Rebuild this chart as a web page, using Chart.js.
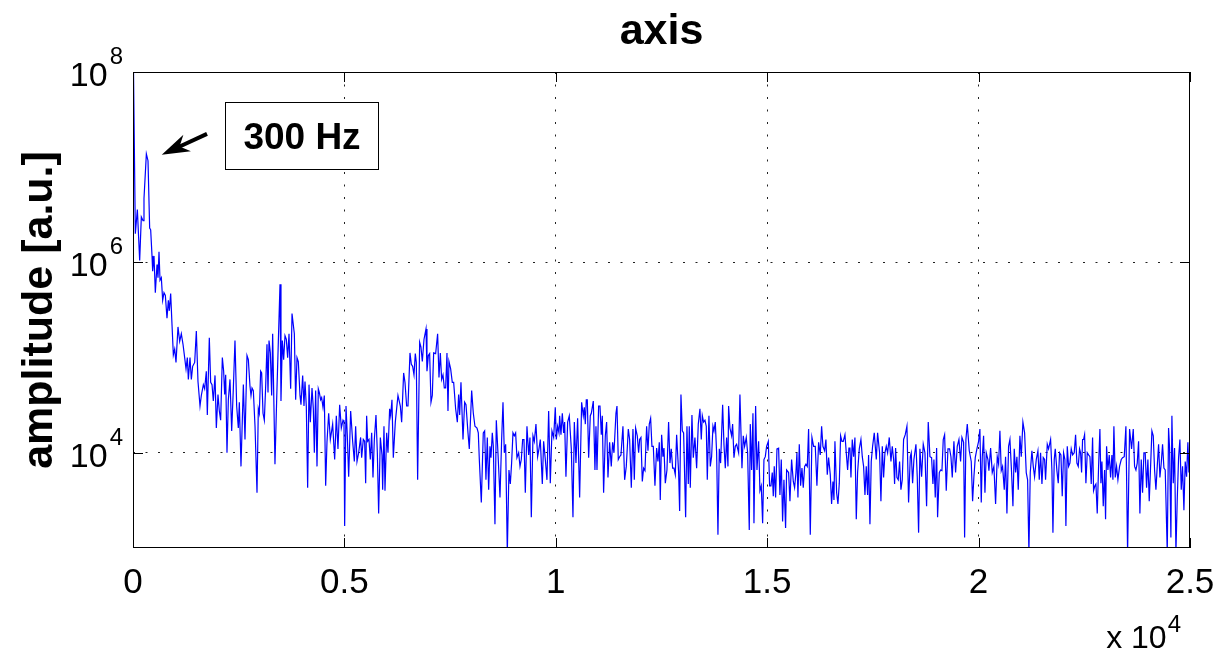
<!DOCTYPE html>
<html><head><meta charset="utf-8">
<style>html,body{margin:0;padding:0;background:#fff;} #wrap{width:1224px;height:663px;}</style>
<script src="https://cdn.jsdelivr.net/npm/chart.js@4.4.1/dist/chart.umd.min.js"></script>
</head><body><div id="wrap"><canvas id="c" width="1224" height="663"></canvas></div>
<script>
const chartTitle = 'axis';
const yAxisLabel = 'amplitude [a.u.]';
const xTickValues = [0, 5000, 10000, 15000, 20000, 25000];
const xTickLabels = ['0', '0.5', '1', '1.5', '2', '2.5'];
const xScaleNote = ['x 10', '4'];
const yTickValues = [1e4, 1e6, 1e8];
const yTickExponents = ['4', '6', '8'];
const annotationText = '300 Hz';

const freqHz = [
0,55,103,158,197,237,260,316,355,394,
418,450,465,497,528,568,591,615,639,670,
702,733,765,804,836,859,891,923,954,986,
1017,1064,1104,1143,1183,1222,1254,1285,1309,1348,
1380,1411,1459,1498,1537,1585,1616,1664,1695,1734,
1758,1805,1837,1869,1900,1940,1971,2010,2042,2073,
2113,2144,2168,2192,2223,2255,2294,2334,2373,2412,
2452,2491,2515,2554,2610,2649,2696,2728,2767,2791,
2815,2846,2886,2933,2964,2988,3019,3043,3075,3106,
3138,3169,3193,3217,3248,3280,3303,3358,3398,3437,
3477,3500,3532,3563,3595,3627,3658,3690,3729,3761,
3792,3816,3847,3879,3910,3950,3973,4013,4044,4068,
4099,4131,4163,4194,4234,4265,4289,4320,4352,4383,
4407,4438,4462,4494,4525,4557,4588,4628,4667,4691,
4722,4770,4809,4848,4888,4927,4967,4990,5006,5038,
5069,5101,5148,5195,5235,5266,5298,5337,5384,5408,
5447,5479,5503,5526,5550,5581,5613,5645,5676,5708,
5747,5779,5810,5850,5889,5905,5936,5960,6000,6031,
6070,6094,6125,6157,6204,6267,6323,6354,6401,6433,
6472,6504,6551,6583,6614,6646,6677,6701,6732,6780,
6811,6843,6882,6930,6953,6985,7016,7048,7079,7111,
7158,7205,7237,7269,7300,7332,7363,7395,7426,7450,
7473,7513,7552,7584,7631,7671,7702,7726,7757,7805,
7844,7876,7923,7954,8010,8049,8088,8136,8167,8191,
8238,8285,8317,8348,8380,8412,8443,8467,8498,8522,
8561,8593,8632,8680,8719,8751,8782,8814,8853,8892,
8924,8955,8987,9018,9050,9081,9121,9153,9184,9216,
9247,9279,9318,9358,9389,9421,9460,9492,9531,9570,
9602,9633,9681,9712,9752,9791,9831,9870,9909,9949,
9988,10012,10043,10075,10091,10122,10154,10185,10209,10240,
10280,10319,10367,10406,10438,10477,10516,10564,10611,10650,
10674,10698,10721,10745,10777,10816,10840,10887,10926,10950,
10974,11013,11045,11076,11100,11131,11171,11202,11234,11273,
11312,11344,11376,11423,11447,11478,11510,11541,11588,11628,
11667,11715,11746,11786,11825,11857,11888,11927,11959,11983,
12014,12046,12077,12109,12148,12180,12211,12243,12274,12306,
12345,12385,12416,12448,12471,12503,12534,12558,12590,12629,
12668,12700,12731,12763,12795,12826,12858,12905,12929,12960,
12992,13023,13071,13102,13134,13157,13181,13220,13252,13291,
13331,13370,13409,13441,13465,13496,13528,13559,13583,13622,
13654,13685,13717,13741,13772,13804,13835,13867,13898,13946,
13977,14009,14040,14072,14087,14119,14158,14182,14214,14245,
14277,14324,14355,14403,14434,14466,14505,14537,14576,14600,
14631,14663,14687,14726,14758,14797,14828,14860,14892,14923,
14955,14986,15026,15057,15089,15120,15144,15167,15199,15231,
15270,15301,15333,15364,15396,15435,15459,15506,15538,15577,
15617,15648,15680,15703,15727,15759,15790,15822,15853,15885,
15916,15948,15979,16019,16058,16098,16137,16176,16216,16255,
16287,16318,16358,16389,16421,16452,16492,16523,16555,16579,
16602,16642,16673,16705,16736,16768,16799,16839,16870,16902,
16933,16957,16981,17012,17044,17075,17107,17138,17178,17217,
17249,17280,17312,17343,17375,17398,17430,17461,17493,17532,
17580,17611,17658,17690,17722,17753,17785,17816,17848,17887,
17927,17958,17990,18013,18037,18068,18100,18131,18163,18194,
18226,18265,18305,18344,18384,18407,18439,18470,18518,18549,
18581,18612,18652,18691,18731,18770,18809,18849,18888,18920,
18943,18975,19007,19030,19070,19101,19133,19164,19196,19235,
19275,19314,19346,19377,19416,19456,19495,19535,19574,19606,
19645,19669,19700,19732,19779,19826,19858,19889,19921,19960,
20000,20031,20063,20087,20118,20150,20181,20221,20244,20284,
20323,20362,20402,20441,20473,20504,20536,20567,20607,20638,
20670,20709,20741,20780,20812,20843,20875,20906,20938,20977,
21009,21048,21088,21127,21159,21190,21222,21261,21293,21324,
21364,21403,21435,21466,21498,21529,21561,21584,21624,21655,
21703,21734,21758,21789,21813,21852,21884,21915,21947,21978,
22010,22041,22065,22097,22128,22160,22191,22223,22262,22294,
22325,22357,22388,22412,22436,22459,22483,22507,22538,22570,
22601,22633,22664,22696,22719,22751,22775,22806,22838,22869,
22893,22917,22948,22980,23003,23027,23058,23090,23122,23153,
23177,23200,23232,23263,23295,23334,23374,23405,23445,23484,
23524,23571,23618,23658,23689,23721,23752,23784,23815,23847,
23878,23910,23941,23973,24004,24036,24068,24099,24131,24162,
24194,24225,24257,24288,24320,24351,24383,24414,24462,24493,
24517,24548,24572,24604,24635,24667,24698,24730,24761,24793,
24824,24856,24887,24919,24950,24974,25000
];

const amplitude = [
3e8,2.0e6,3.6e6,1.05e6,3.0e6,2.75e6,4.7e6,1.38e7,1.17e7,2.3e6,
2.2e6,1.17e6,8.1e5,1.17e6,4.8e5,9.5e5,6.9e5,1.29e6,6.5e5,6.9e5,
4.0e5,4.8e5,4.5e5,2.6e5,4.0e5,3.1e5,4.7e5,2.2e5,1.07e5,1.23e5,
8.9e4,2.1e5,1.48e5,1.78e5,1.38e5,1.0e5,7.6e4,1.0e5,5.9e4,1.0e5,
5.9e4,8.1e4,8.9e4,1.9e5,5.6e4,3.1e4,4.0e4,5.2e4,4.7e4,7.2e4,
2.5e4,1.62e5,5.5e4,5.2e4,3.5e4,6.5e4,1.82e4,4.1e4,2.75e4,2.2e4,
1.0e5,7.2e4,4.1e4,6.6e4,1.0e4,3.6e4,5.9e4,1.7e4,4.7e4,1.51e5,
3.1e4,1.82e4,3.4e4,7.2e3,5.2e4,1.38e4,1.05e5,9.5e4,5.0e4,4.0e4,
4.8e4,4.5e4,1.9e4,3.8e3,2.9e4,2.6e4,7.2e4,6.9e4,2.6e4,2.2e4,
5.0e4,1.38e5,4.3e4,1.51e5,1.12e5,4.0e4,1.78e5,7.6e3,3.6e4,1.45e5,
5.9e5,3.5e4,1.51e5,9.5e4,1.7e5,1.55e5,1.0e5,1.78e5,4.7e4,2.9e5,
2.2e5,1.78e5,3.6e4,1.0e5,9.1e4,4.0e4,3.2e4,6.5e4,3.1e4,5.6e4,
3.1e4,4.3e3,5.2e4,2.1e4,4.8e4,2.9e4,1.0e4,4.5e4,7.2e3,4.7e4,
4.3e4,3.6e4,3.8e4,3.0e4,4.0e4,4.5e3,1.29e4,2.6e4,1.38e4,1.62e4,
2.0e4,8.5e3,2.45e4,1.1e4,3.2e4,1.82e4,2.2e4,2.1e4,1.7e3,3.1e4,
1.51e4,5.6e3,2.75e4,1.32e4,8.1e3,1.9e4,8.1e3,1.0e4,1.45e4,8.9e3,
1.38e4,1.32e4,4.8e3,2.45e4,1.32e4,1.38e4,8.5e3,1.62e4,5.5e3,1.38e4,
2.5e4,1.0e4,2.3e3,1.45e4,9.5e3,4.1e3,1.9e4,4.0e3,1.62e4,1.0e4,
2.9e4,2.45e4,3.6e4,8.9e3,2.1e4,4.0e4,3.1e4,2.1e4,6.9e4,5.5e4,
3.1e4,3.1e4,1.12e5,8.5e4,8.1e4,6.6e4,1.1e5,8.9e4,5.2e3,1.45e5,
1.29e5,9.1e4,1.55e5,2.0e5,7.2e4,1.05e5,1.1e5,3.4e4,4.0e4,1.12e5,
1.1e5,1.78e5,6.2e4,1.12e5,5.9e4,6.6e4,4.8e4,4.8e4,1.12e5,2.75e4,
9.1e4,7.6e4,5.5e4,5.5e4,2.9e4,2.1e4,4.1e4,2.5e4,5.5e4,1.38e4,
3.4e4,3.2e4,1.62e4,1.1e4,4.5e4,2.6e4,1.9e4,1.82e4,1.62e4,8.5e3,
3.0e3,1.62e4,1.7e4,5.2e3,1.45e4,4.1e3,1.17e4,8.9e3,1.62e4,1.17e4,
1.78e3,2.2e4,1.0e4,3.4e3,1.38e4,3.4e4,1.0e4,1.23e4,9e2,6.6e3,
4.7e3,7.8e3,1.62e4,1.51e4,1.62e4,8.9e3,1.0e4,7.2e3,8.5e3,1.38e4,
1.38e4,3.8e3,1.9e4,9.5e3,1.45e4,2.1e3,1.51e4,1.32e4,2.0e4,9.1e3,
1.1e4,1.38e4,4.7e3,1.32e4,8.5e3,5.2e3,2.75e4,4.8e3,1.7e4,1.45e4,
3.0e4,1.38e4,1.9e4,1.62e4,2.45e4,1.55e4,2.6e4,1.62e4,2.1e4,5.6e3,
2.1e4,2.45e4,1.1e4,2.1e3,2.1e4,7.8e3,2.3e4,3.4e3,3.4e4,2.45e4,
3.0e4,2.0e4,3.6e4,3.6e4,8.9e3,2.45e4,2.6e4,3.5e4,6.6e3,1.9e4,
6.6e3,3.1e4,3.1e4,1.55e4,2.45e4,3.8e3,1.51e4,2.1e4,5.5e3,1.29e4,
7.2e3,1.29e4,1.0e4,2.6e4,3.1e4,8.5e3,9.1e3,9.5e3,1.9e4,5.2e3,
7.2e3,1.78e4,1.38e4,4.3e3,1.78e4,5.2e3,1.82e4,1.51e4,1.0e4,1.38e4,
1.45e4,5.0e3,6.9e3,6.5e3,1.9e4,1.05e4,2.0e4,2.3e4,1.17e4,1.17e4,
4.5e3,1.12e4,8.1e3,1.29e4,3.2e3,1.55e4,9.1e3,1.12e4,4.8e3,6.6e3,
2.1e4,7.8e3,1.1e4,6.9e3,6.9e3,5.9e3,1.55e4,6.2e3,2.45e3,4.1e4,
1.7e4,1.62e4,2.1e3,1.9e4,4.7e3,1.9e4,4.3e3,2.5e4,8.9e3,1.45e4,
6.9e3,2.0e4,2.9e4,1.38e4,2.45e4,2.1e4,2.2e4,1.9e4,5.2e3,2.45e4,
7.2e3,9.1e3,1.9e4,1.7e4,2.1e4,1.0e4,1.38e3,1.1e4,7.8e3,3.2e4,
1.23e4,6.9e3,1.45e4,7.2e3,3.1e4,1.82e4,1.51e4,2.0e4,8.9e3,1.17e4,
1.23e4,1.0e4,4.1e4,6.9e3,1.51e4,1.17e4,1.45e4,1.0e4,1.55e3,2.0e4,
6.6e3,2.6e4,1.82e3,3.1e4,6.6e3,1.32e4,4.0e3,4.5e3,1.82e3,8.5e3,
9.1e3,1.17e4,1.32e4,4.5e3,4.5e3,6.2e3,3.5e3,7.2e3,3.4e3,1.1e4,
1.12e4,3.6e3,8.5e3,1.9e3,5.2e3,1.62e3,6.6e3,6.2e3,3.1e3,8.5e3,
5.0e3,4.3e3,6.2e3,1.0e4,3.4e3,1.23e4,4.5e3,6.9e3,4.3e3,7.2e3,
7.6e3,7.2e3,1.78e4,1.38e3,1.45e4,1.17e4,1.17e4,4.5e3,1.29e4,9.5e3,
1.9e4,1.17e4,1.05e4,1.38e4,5.9e3,8.9e3,5.9e3,2.9e3,5.0e3,3.2e3,
1.32e4,3.8e3,2.9e3,4.8e3,1.51e4,1.32e4,1.32e4,1.55e4,1.0e4,6.6e3,
1.12e4,1.12e4,5.5e3,1.38e4,9.1e3,1.45e4,2.0e3,6.2e3,1.1e4,1.38e4,
9.1e3,7.2e3,3.6e3,7.2e3,3.6e3,9.5e3,1.78e3,8.1e3,1.17e4,1.62e4,
8.5e3,1.62e4,1.0e4,3.1e3,1.17e4,5.5e3,1.0e4,1.17e4,1.0e4,1.45e4,
8.1e3,1.17e4,8.5e3,4.7e3,1.12e4,5.5e3,5.2e3,8.1e3,4.1e3,5.2e3,
1.38e4,1.55e4,1.9e4,3.0e3,9.1e3,1.0e4,4.8e3,8.5e3,1.23e4,5.6e3,
1.45e3,1.1e4,5.6e3,1.23e4,1.0e4,2.75e3,2.1e4,9.1e3,8.9e3,4.7e3,
8.5e3,3.4e3,1.12e4,2.1e3,6.2e3,6.6e3,6.5e3,1.38e4,1.55e4,4.0e3,
1.1e4,1.1e4,9.1e3,5.5e3,1.32e4,6.2e3,1.17e4,1.38e4,8.1e3,1.45e4,
1.29e4,1.29e3,1.38e4,2.0e4,1.05e4,8.1e3,3.1e3,5.6e3,8.9e3,1.1e4,
1.32e4,1.78e4,3.0e3,9.1e3,1.51e4,3.8e3,1.0e4,8.5e3,6.5e3,1.12e4,
6.2e3,7.2e3,2.9e3,9.1e3,7.6e3,1.7e4,6.5e3,7.2e3,4.1e3,9.1e3,
2.3e3,1.17e4,1.38e4,6.2e3,2.75e3,1.1e4,6.2e3,9.1e3,4.1e3,1.51e4,
9.1e3,2.1e4,1.62e4,6.2e3,5.2e3,9e2,6.2e3,1.05e4,7.2e3,5.6e3,
8.5e3,1.05e4,5.2e3,1.0e4,4.7e3,8.9e3,8.5e3,5.2e3,1.23e4,1.1e4,
1.38e4,6.6e3,1.45e3,8.5e3,1.1e4,6.5e3,4.8e3,1.0e4,9.5e3,3.5e3,
1.0e4,8.5e3,1.7e3,1.17e4,7.2e3,7.8e3,1.1e4,9.5e3,1.0e4,1.55e4,
7.8e3,7.2e3,1.1e4,1.0e4,6.2e3,1.38e4,1.38e4,1.55e4,4.8e3,1.0e4,
9.5e3,9.1e3,4.7e3,1.45e4,4.0e3,4.5e3,4.7e3,2.3e3,7.2e3,1.78e4,
4.8e3,8.1e3,2.75e3,6.6e3,2.0e3,1.17e4,6.6e3,9.5e3,5.5e3,9.5e3,
5.2e3,1.9e4,5.5e3,7.2e3,5.2e3,7.2e3,8.5e3,8.9e3,9.1e3,1.9e4,
9e2,1.78e4,1.1e4,1.78e4,7.2e3,6.6e3,7.8e3,1.32e4,2.3e3,8.5e3,
3.8e3,1.0e4,1.0e4,4.3e3,8.5e3,3.1e3,7.2e3,1.7e4,1.51e4,6.6e3,
4.1e3,7.2e3,1.23e4,5.5e3,7.8e3,1.23e4,6.9e3,6.6e3,9e2,1.82e4,
1.12e4,1.29e3,2.45e4,4.8e3,1.12e4,9e2,3.2e3,8.9e3,1.38e4,4.1e3,
7.2e3,2.5e3,8.1e3,5.6e3,1.29e4,6.2e3,1.1e4
];

// annotation anchors, in data units (Hz, amplitude)
const annotationArrow = { tipHz: 680, tipAmp: 1.35e7, tailHz: 1750, tailAmp: 2.24e7 };
const annotationBox = { fromHz: 2176, toHz: 5794, topAmp: 4.8e7, bottomAmp: 9.5e6 };

const FONT = '"Liberation Sans", Arial, Helvetica, sans-serif';

const matlabDecor = {
  id: 'matlabDecor',
  afterDraw(chart) {
    const { ctx, chartArea: a, scales: { x, y } } = chart;
    ctx.save();
    ctx.strokeStyle = '#000';
    ctx.fillStyle = '#000';
    ctx.lineWidth = 1;
    // axes box
    ctx.strokeRect(a.left + 0.5, a.top + 0.5, a.right - a.left - 1, a.bottom - a.top - 1);
    // inward ticks
    ctx.beginPath();
    xTickValues.forEach(v => {
      const px = Math.round(x.getPixelForValue(v)) + 0.5;
      ctx.moveTo(px, a.bottom); ctx.lineTo(px, a.bottom - 10);
      ctx.moveTo(px, a.top); ctx.lineTo(px, a.top + 10);
    });
    yTickValues.forEach(v => {
      const py = Math.round(y.getPixelForValue(v)) + 0.5;
      ctx.moveTo(a.left, py); ctx.lineTo(a.left + 10, py);
      ctx.moveTo(a.right, py); ctx.lineTo(a.right - 10, py);
    });
    ctx.stroke();

    // x tick labels
    ctx.font = '35px ' + FONT;
    ctx.textAlign = 'center';
    ctx.textBaseline = 'alphabetic';
    xTickValues.forEach((v, i) => {
      ctx.fillText(xTickLabels[i], x.getPixelForValue(v), a.bottom + 45);
    });
    // x 10^4
    ctx.font = '24px ' + FONT;
    ctx.textAlign = 'right';
    const supW = ctx.measureText(xScaleNote[1]).width;
    const noteRight = a.right - 9;
    ctx.fillText(xScaleNote[1], noteRight, a.bottom + 84);
    ctx.font = '32px ' + FONT;
    ctx.fillText(xScaleNote[0], noteRight - supW - 1, a.bottom + 100);

    // y tick labels (10^n)
    yTickValues.forEach((v, i) => {
      const py = y.getPixelForValue(v);
      ctx.font = '24px ' + FONT;
      ctx.textAlign = 'right';
      const sx = a.left - 10;
      const sw = ctx.measureText(yTickExponents[i]).width;
      ctx.fillText(yTickExponents[i], sx, py - 8);
      ctx.font = '34px ' + FONT;
      ctx.fillText('10', sx - sw - 2, py + 14);
    });

    // title
    ctx.font = 'bold 43px ' + FONT;
    ctx.textAlign = 'center';
    ctx.fillText(chartTitle, (a.left + a.right) / 2, 44);

    // y axis label
    ctx.save();
    ctx.translate(52, (a.top + a.bottom) / 2);
    ctx.rotate(-Math.PI / 2);
    ctx.font = 'bold 43px ' + FONT;
    ctx.textAlign = 'center';
    ctx.fillText(yAxisLabel, 0, 0);
    ctx.restore();

    // annotation box
    const bx0 = Math.round(x.getPixelForValue(annotationBox.fromHz)) + 0.5;
    const bx1 = Math.round(x.getPixelForValue(annotationBox.toHz)) + 0.5;
    const by0 = Math.round(y.getPixelForValue(annotationBox.topAmp)) + 0.5;
    const by1 = Math.round(y.getPixelForValue(annotationBox.bottomAmp)) + 0.5;
    ctx.fillStyle = '#fff';
    ctx.fillRect(bx0, by0, bx1 - bx0, by1 - by0);
    ctx.strokeStyle = '#000';
    ctx.lineWidth = 1;
    ctx.strokeRect(bx0, by0, bx1 - bx0, by1 - by0);
    ctx.fillStyle = '#000';
    ctx.font = 'bold 37px ' + FONT;
    ctx.textAlign = 'center';
    ctx.fillText(annotationText, (bx0 + bx1) / 2, (by0 + by1) / 2 + 13);

    // annotation arrow
    const tx = x.getPixelForValue(annotationArrow.tipHz), ty = y.getPixelForValue(annotationArrow.tipAmp);
    const sx0 = x.getPixelForValue(annotationArrow.tailHz), sy0 = y.getPixelForValue(annotationArrow.tailAmp);
    const dx = tx - sx0, dy = ty - sy0, len = Math.hypot(dx, dy);
    const ux = dx / len, uy = dy / len, nx = -uy, ny = ux;
    const L = 28, W = 9;
    ctx.lineWidth = 4;
    ctx.beginPath();
    ctx.moveTo(sx0, sy0);
    ctx.lineTo(tx - ux * L * 0.6, ty - uy * L * 0.6);
    ctx.stroke();
    ctx.beginPath();
    ctx.moveTo(tx, ty);
    ctx.lineTo(tx - ux * L + nx * W, ty - uy * L + ny * W);
    ctx.lineTo(tx - ux * L * 0.7, ty - uy * L * 0.7);
    ctx.lineTo(tx - ux * L - nx * W, ty - uy * L - ny * W);
    ctx.closePath();
    ctx.fill();
    ctx.restore();
  }
};

const edgeFree = (edges) => (c) => (c.tick && edges.includes(c.tick.value)) ? 'rgba(0,0,0,0)' : '#222';

new Chart(document.getElementById('c'), {
  type: 'line',
  data: {
    datasets: [{
      data: freqHz.map((f, i) => ({ x: f, y: amplitude[i] })),
      borderColor: '#0000ff',
      borderWidth: 1.2,
      pointRadius: 0,
      tension: 0,
      fill: false
    }]
  },
  options: {
    responsive: false,
    animation: false,
    devicePixelRatio: 1,
    layout: { padding: { left: 133, top: 72, right: 34, bottom: 115 } },
    plugins: { legend: { display: false }, tooltip: { enabled: false }, title: { display: false } },
    scales: {
      x: {
        type: 'linear', min: 0, max: 25000,
        afterBuildTicks: s => { s.ticks = xTickValues.map(v => ({ value: v })); },
        ticks: { display: false },
        grid: { color: edgeFree([0, 25000]), lineWidth: 1, drawTicks: false },
        border: { display: false, dash: [2, 10.5] }
      },
      y: {
        type: 'logarithmic', min: 1e3, max: 1e8,
        afterBuildTicks: s => { s.ticks = yTickValues.map(v => ({ value: v })); },
        ticks: { display: false },
        grid: { color: edgeFree([1e8]), lineWidth: 1, drawTicks: false },
        border: { display: false, dash: [2, 10.5] }
      }
    }
  },
  plugins: [matlabDecor]
});
</script>
</body></html>
